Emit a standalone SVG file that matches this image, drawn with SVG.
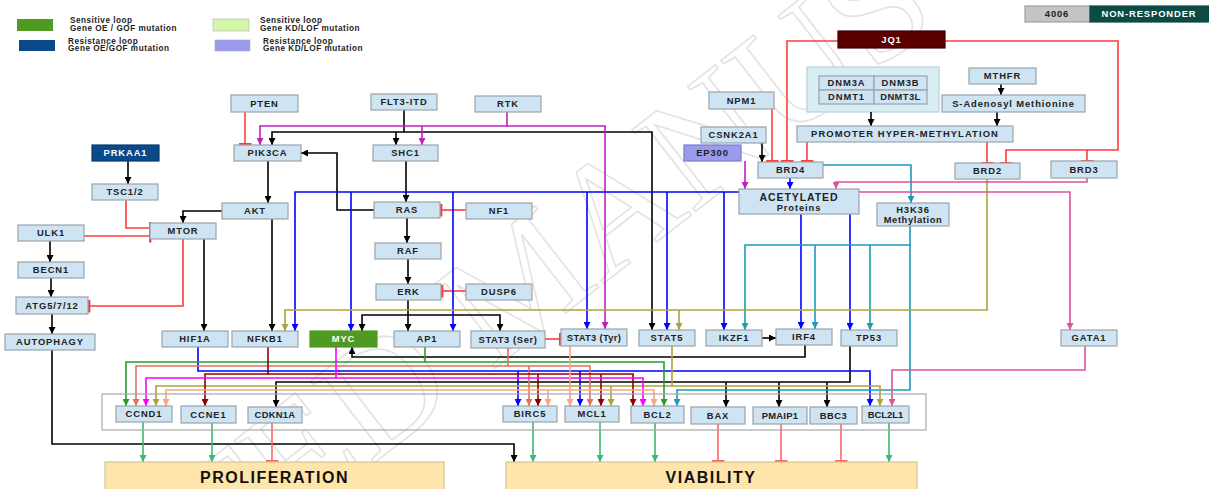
<svg xmlns="http://www.w3.org/2000/svg" width="1209" height="489" viewBox="0 0 1209 489">
<style>
.n rect{fill:#cfe4f3;stroke:#9aa3ab;stroke-width:1.2}
.n text,.lg text{font-family:"Liberation Sans",Arial,sans-serif;font-weight:bold;fill:#222}
.n text{font-size:9.4px;text-anchor:middle;letter-spacing:0.9px}
.lg text{font-size:8.2px;letter-spacing:0.5px}
.w text{fill:#fff}
.big text{font-size:16px;letter-spacing:1.5px;fill:#111}
.c path{fill:none;stroke-width:1.6}
.k{stroke:#000}.r{stroke:#ff3b3b}.rl{stroke:#ff6464}.mg{stroke:#c21fc2}.b{stroke:#0000ff}.t{stroke:#1b9bb9}.o{stroke:#aaa43e}.p{stroke:#e0519b}.g{stroke:#2c9a2c}.go{stroke:#3db873}.dr{stroke:#8b0000}.sa{stroke:#e07262}.lo{stroke:#f4a582}.fm{stroke:#ff00ff}
</style>
<defs>
<marker id="ak" viewBox="0 0 10 10" refX="10" refY="5" markerWidth="8" markerHeight="7" markerUnits="userSpaceOnUse" orient="auto"><path d="M0,0L10,5L0,10z" fill="#000"/></marker>
<marker id="amg" viewBox="0 0 10 10" refX="10" refY="5" markerWidth="8" markerHeight="7" markerUnits="userSpaceOnUse" orient="auto"><path d="M0,0L10,5L0,10z" fill="#c21fc2"/></marker>
<marker id="ab" viewBox="0 0 10 10" refX="10" refY="5" markerWidth="8" markerHeight="7" markerUnits="userSpaceOnUse" orient="auto"><path d="M0,0L10,5L0,10z" fill="#0000ff"/></marker>
<marker id="at" viewBox="0 0 10 10" refX="10" refY="5" markerWidth="8" markerHeight="7" markerUnits="userSpaceOnUse" orient="auto"><path d="M0,0L10,5L0,10z" fill="#1b9bb9"/></marker>
<marker id="ao" viewBox="0 0 10 10" refX="10" refY="5" markerWidth="8" markerHeight="7" markerUnits="userSpaceOnUse" orient="auto"><path d="M0,0L10,5L0,10z" fill="#aaa43e"/></marker>
<marker id="ap" viewBox="0 0 10 10" refX="10" refY="5" markerWidth="8" markerHeight="7" markerUnits="userSpaceOnUse" orient="auto"><path d="M0,0L10,5L0,10z" fill="#e0519b"/></marker>
<marker id="ag" viewBox="0 0 10 10" refX="10" refY="5" markerWidth="8" markerHeight="7" markerUnits="userSpaceOnUse" orient="auto"><path d="M0,0L10,5L0,10z" fill="#2c9a2c"/></marker>
<marker id="ago" viewBox="0 0 10 10" refX="10" refY="5" markerWidth="8" markerHeight="7" markerUnits="userSpaceOnUse" orient="auto"><path d="M0,0L10,5L0,10z" fill="#3db873"/></marker>
<marker id="adr" viewBox="0 0 10 10" refX="10" refY="5" markerWidth="8" markerHeight="7" markerUnits="userSpaceOnUse" orient="auto"><path d="M0,0L10,5L0,10z" fill="#8b0000"/></marker>
<marker id="asa" viewBox="0 0 10 10" refX="10" refY="5" markerWidth="8" markerHeight="7" markerUnits="userSpaceOnUse" orient="auto"><path d="M0,0L10,5L0,10z" fill="#e07262"/></marker>
<marker id="alo" viewBox="0 0 10 10" refX="10" refY="5" markerWidth="8" markerHeight="7" markerUnits="userSpaceOnUse" orient="auto"><path d="M0,0L10,5L0,10z" fill="#f4a582"/></marker>
<marker id="afm" viewBox="0 0 10 10" refX="10" refY="5" markerWidth="8" markerHeight="7" markerUnits="userSpaceOnUse" orient="auto"><path d="M0,0L10,5L0,10z" fill="#ff00ff"/></marker>
<marker id="ir" viewBox="0 0 3 14" refX="1.5" refY="7" markerWidth="3" markerHeight="13" markerUnits="userSpaceOnUse" orient="auto"><rect width="3" height="14" fill="#ff3b3b"/></marker>
<marker id="irl" viewBox="0 0 3 14" refX="1.5" refY="7" markerWidth="3" markerHeight="13" markerUnits="userSpaceOnUse" orient="auto"><rect width="3" height="14" fill="#ff6464"/></marker>
</defs>
<rect width="1209" height="489" fill="#fff"/>
<g id="watermark" opacity="0.5"><text transform="translate(-183,898) rotate(-38)" font-family="Liberation Serif,serif" font-size="158" fill="none" stroke="#c8c8c8" stroke-width="1.6">ACCEPTED MANUSCRIPT</text></g>

<g id="legend" class="lg">
<rect x="17" y="19" width="36" height="12" fill="#4f9a22"/>
<text x="70" y="23">Sensitive loop</text><text x="70" y="31">Gene OE / GOF mutation</text>
<rect x="19" y="40" width="36" height="11" fill="#0b4a8a"/>
<text x="68" y="44">Resistance loop</text><text x="68" y="51">Gene OE/GOF mutation</text>
<rect x="213" y="19" width="36" height="12" fill="#d4f8a8" stroke="#aab" stroke-width="0.6"/>
<text x="260" y="23">Sensitive loop</text><text x="260" y="31">Gene KD/LOF mutation</text>
<rect x="215" y="40" width="35" height="11" fill="#9b9bee" stroke="#aab" stroke-width="0.6"/>
<text x="263" y="44">Resistance loop</text><text x="263" y="51">Gene KD/LOF mutation</text>
</g>

<g id="status" class="n">
<rect x="1025" y="6" width="65" height="16" style="fill:#c4c4c4"/><text x="1057" y="17">4006</text>
<rect x="1090" y="6" width="119" height="16" style="fill:#0c4a44;stroke:#0c4a44"/><text x="1149" y="17" style="fill:#fff">NON-RESPONDER</text>
</g>

<g id="methyl-complex"><rect x="807" y="67" width="132" height="45" fill="#d8eef2" stroke="#b5d3dc" stroke-width="1.2"/></g>
<g id="dnmt-table" class="n">
<rect x="819" y="76" width="55" height="14"/><text x="846.5" y="86.3">DNM3A</text>
<rect x="874" y="76" width="53" height="14"/><text x="900.5" y="86.3">DNM3B</text>
<rect x="819" y="90" width="55" height="14"/><text x="846.5" y="100.3">DNMT1</text>
<rect x="874" y="90" width="53" height="14"/><text x="900.5" y="100.3" style="letter-spacing:0.4px">DNMT3L</text>
</g>

<g class="c">
<!-- black -->
<path class="k" marker-end="url(#ak)" d="M128,161V184"/>
<path class="k" marker-end="url(#ak)" d="M268,161V203"/>
<path class="k" marker-end="url(#ak)" d="M222,211H183V223"/>
<path class="k" marker-end="url(#ak)" d="M272,219V331"/>
<path class="k" marker-end="url(#ak)" d="M204,239V331"/>
<path class="k" marker-end="url(#ak)" d="M50,241V262"/>
<path class="k" marker-end="url(#ak)" d="M51,278V297"/>
<path class="k" marker-end="url(#ak)" d="M52,314V334"/>
<path class="k" marker-end="url(#ak)" d="M52,350V444H514V462"/>
<path class="k" marker-end="url(#ak)" d="M404,110V132H272V145"/>
<path class="k" marker-end="url(#ak)" d="M404,132H652V330"/>
<path class="k" marker-end="url(#ak)" d="M396,132V145"/>
<path class="k" marker-end="url(#ak)" d="M406,161V202"/>
<path class="k" marker-end="url(#ak)" d="M374,210H337V153H301"/>
<path class="k" marker-end="url(#ak)" d="M407,218V243"/>
<path class="k" marker-end="url(#ak)" d="M408,259V284"/>
<path class="k" marker-end="url(#ak)" d="M408,299V331"/>
<path class="k" marker-end="url(#ak)" d="M408,315H362V331"/>
<path class="k" marker-end="url(#ak)" d="M408,315H500V331"/>
<path class="k" marker-end="url(#ak)" d="M762,143V162"/>
<path class="k" marker-end="url(#ak)" d="M871,112V126"/>
<path class="k" marker-end="url(#ak)" d="M1001,84V95"/>
<path class="k" marker-end="url(#ak)" d="M997,112V126"/>
<path class="k" marker-end="url(#ak)" d="M762,338H776"/>
<path class="k" marker-end="url(#ak)" d="M805,345V357H352V347"/>
<path class="k" marker-end="url(#ak)" d="M850,346V382H276V407"/>
<path class="k" marker-end="url(#ak)" d="M726,382V407"/>
<path class="k" marker-end="url(#ak)" d="M779,382V407"/>
<path class="k" marker-end="url(#ak)" d="M827,382V407"/>
<!-- red inhibition -->
<path class="r" marker-end="url(#ir)" d="M245,112V144"/>
<path class="r" marker-end="url(#ir)" d="M126,200V228H150"/>
<path class="r" marker-end="url(#ir)" d="M84,236H150"/>
<path class="r" marker-end="url(#ir)" d="M183,239V306H89"/>
<path class="r" marker-end="url(#ir)" d="M466,210H441"/>
<path class="r" marker-end="url(#ir)" d="M466,291H442"/>
<path class="r" marker-end="url(#ir)" d="M772,109V161"/>
<path class="r" marker-end="url(#ir)" d="M838,41H787V161"/>
<path class="r" marker-end="url(#ir)" d="M807,142V161"/>
<path class="r" marker-end="url(#ir)" d="M945,41H1118V150H1006V163"/>
<path class="r" marker-end="url(#ir)" d="M1087,150V161"/>
<path class="r" marker-end="url(#ir)" d="M987,142V163"/>
<path class="r" marker-end="url(#ir)" d="M545,339H560"/>
<path class="rl" marker-end="url(#irl)" d="M272,423V461"/>
<path class="rl" marker-end="url(#irl)" d="M718,424V461"/>
<path class="rl" marker-end="url(#irl)" d="M781,424V461"/>
<path class="rl" marker-end="url(#irl)" d="M841,424V461"/>
<!-- magenta -->
<path class="mg" marker-end="url(#amg)" d="M507,112V126H260V145"/>
<path class="mg" marker-end="url(#amg)" d="M422,126V145"/>
<path class="mg" marker-end="url(#amg)" d="M507,126H605V329"/>
<path class="mg" marker-end="url(#amg)" d="M745,161V189"/>
<!-- blue -->
<path class="b" marker-end="url(#ab)" d="M739,192H295V331"/>
<path class="b" marker-end="url(#ab)" d="M351,192V331"/>
<path class="b" marker-end="url(#ab)" d="M453,192V331"/>
<path class="b" marker-end="url(#ab)" d="M587,192V329"/>
<path class="b" marker-end="url(#ab)" d="M667,192V330"/>
<path class="b" marker-end="url(#ab)" d="M724,192V330"/>
<path class="b" marker-end="url(#ab)" d="M790,178V189"/>
<path class="b" marker-end="url(#ab)" d="M801,214V329"/>
<path class="b" marker-end="url(#ab)" d="M850,214V330"/>
<path class="b" marker-end="url(#ab)" d="M198,347V371H870V406"/>
<path class="b" marker-end="url(#ab)" d="M518,371V406"/>
<path class="b" marker-end="url(#ab)" d="M580,371V406"/>
<!-- teal -->
<path class="t" marker-end="url(#at)" d="M823,165H911V203"/>
<path class="t" marker-end="url(#at)" d="M910,226V390H677V406"/>
<path class="t" marker-end="url(#at)" d="M910,245H745V330"/>
<path class="t" marker-end="url(#at)" d="M815,245V329"/>
<path class="t" marker-end="url(#at)" d="M870,245V330"/>
<!-- olive -->
<path class="o" marker-end="url(#ao)" d="M987,179V310H285V331"/>
<path class="o" marker-end="url(#ao)" d="M679,310V330"/>
<path class="o" marker-end="url(#ao)" d="M672,346V386H156V406"/>
<path class="o" marker-end="url(#ao)" d="M672,386H880V406"/>
<path class="o" marker-end="url(#ao)" d="M611,386V406"/>
<!-- pink -->
<path class="p" marker-end="url(#ap)" d="M1087,178V182H836V189"/>
<path class="p" marker-end="url(#ap)" d="M859,192H1070V330"/>
<path class="p" marker-end="url(#ap)" d="M1085,346V370H892V406"/>
<!-- green from AP1 -->
<path class="g" marker-end="url(#ag)" d="M425,347V362H126V406"/>
<path class="g" marker-end="url(#ag)" d="M425,362H664V406"/>
<!-- salmon from STAT3 Ser -->
<path class="sa" marker-end="url(#asa)" d="M508,348V366H136V406"/>
<path class="sa" marker-end="url(#asa)" d="M508,366H590V406"/>
<path class="sa" marker-end="url(#asa)" d="M529,366V406"/>
<!-- dark red from NFKB1 -->
<path class="dr" marker-end="url(#adr)" d="M268,347V374H205V406"/>
<path class="dr" marker-end="url(#adr)" d="M268,374H633V406"/>
<path class="dr" marker-end="url(#adr)" d="M538,374V406"/>
<path class="dr" marker-end="url(#adr)" d="M601,374V406"/>
<!-- bright magenta from MYC -->
<path class="fm" marker-end="url(#afm)" d="M336,347V378H146V406"/>
<path class="fm" marker-end="url(#afm)" d="M336,378H643V406"/>
<!-- light orange from STAT3 Tyr -->
<path class="lo" marker-end="url(#alo)" d="M570,346V406"/>
<path class="lo" marker-end="url(#alo)" d="M570,390H166V406"/>
<path class="lo" marker-end="url(#alo)" d="M570,390H654V406"/>
<path class="lo" marker-end="url(#alo)" d="M548,390V406"/>
<!-- outputs -->
<path class="go" marker-end="url(#ago)" d="M143,422V462"/>
<path class="go" marker-end="url(#ago)" d="M212,423V462"/>
<path class="go" marker-end="url(#ago)" d="M533,422V462"/>
<path class="go" marker-end="url(#ago)" d="M600,422V462"/>
<path class="go" marker-end="url(#ago)" d="M655,423V462"/>
<path class="go" marker-end="url(#ago)" d="M889,423V462"/>
</g>

<g id="target-box"><rect x="102" y="394" width="824" height="36" fill="none" stroke="#a8a8a8" stroke-width="1.2"/></g>

<g id="PTEN" class="n"><rect x="231" y="95" width="67" height="17"/><text x="264.5" y="106.8">PTEN</text></g>
<g id="PIK3CA" class="n"><rect x="234" y="145" width="67" height="16"/><text x="267.5" y="156.3">PIK3CA</text></g>
<g id="FLT3-ITD" class="n"><rect x="371" y="94" width="66" height="16"/><text x="404" y="105.3">FLT3-ITD</text></g>
<g id="RTK" class="n"><rect x="475" y="96" width="66" height="16"/><text x="508" y="107.3">RTK</text></g>
<g id="SHC1" class="n"><rect x="373" y="145" width="65" height="16"/><text x="405.5" y="156.3">SHC1</text></g>
<g id="PRKAA1" class="n w"><rect x="92" y="145" width="67" height="16" style="fill:#0b4a8a;stroke:#0b3a6a"/><text x="125.5" y="156.3">PRKAA1</text></g>
<g id="TSC12" class="n"><rect x="92" y="184" width="66" height="16"/><text x="125" y="195.3">TSC1/2</text></g>
<g id="AKT" class="n"><rect x="222" y="203" width="66" height="16"/><text x="255" y="214.3">AKT</text></g>
<g id="MTOR" class="n"><rect x="150" y="223" width="66" height="16"/><text x="183" y="234.3">MTOR</text></g>
<g id="ULK1" class="n"><rect x="18" y="225" width="66" height="16"/><text x="51" y="236.3">ULK1</text></g>
<g id="BECN1" class="n"><rect x="18" y="262" width="66" height="16"/><text x="51" y="273.3">BECN1</text></g>
<g id="ATG" class="n"><rect x="16" y="297" width="72" height="17"/><text x="52" y="308.8">ATG5/7/12</text></g>
<g id="AUTOPHAGY" class="n"><rect x="5" y="334" width="90" height="16"/><text x="50" y="345.3">AUTOPHAGY</text></g>
<g id="HIF1A" class="n"><rect x="162" y="331" width="66" height="16"/><text x="195" y="342.3">HIF1A</text></g>
<g id="NFKB1" class="n"><rect x="232" y="331" width="66" height="16"/><text x="265" y="342.3">NFKB1</text></g>
<g id="RAS" class="n"><rect x="374" y="202" width="66" height="16"/><text x="407" y="213.3">RAS</text></g>
<g id="NF1" class="n"><rect x="466" y="203" width="66" height="16"/><text x="499" y="214.3">NF1</text></g>
<g id="RAF" class="n"><rect x="375" y="243" width="66" height="16"/><text x="408" y="254.3">RAF</text></g>
<g id="ERK" class="n"><rect x="376" y="284" width="65" height="16"/><text x="408.5" y="295.3">ERK</text></g>
<g id="DUSP6" class="n"><rect x="466" y="284" width="66" height="16"/><text x="499" y="295.3">DUSP6</text></g>
<g id="MYC" class="n w"><rect x="310" y="331" width="67" height="16" style="fill:#4f9a22;stroke:#4f9a22"/><text x="343.5" y="342.3">MYC</text></g>
<g id="AP1" class="n"><rect x="394" y="331" width="66" height="16"/><text x="427" y="342.3">AP1</text></g>
<g id="STAT3Ser" class="n"><rect x="471" y="331" width="74" height="17"/><text x="508" y="342.8" style="letter-spacing:0.6px">STAT3 (Ser)</text></g>
<g id="STAT3Tyr" class="n"><rect x="561" y="329" width="66" height="17"/><text x="594" y="340.8" style="letter-spacing:0.3px">STAT3 (Tyr)</text></g>
<g id="STAT5" class="n"><rect x="639" y="330" width="56" height="16"/><text x="667" y="341.3">STAT5</text></g>
<g id="IKZF1" class="n"><rect x="706" y="330" width="56" height="16"/><text x="734" y="341.3">IKZF1</text></g>
<g id="IRF4" class="n"><rect x="776" y="329" width="56" height="16"/><text x="804" y="340.3">IRF4</text></g>
<g id="TP53" class="n"><rect x="841" y="330" width="56" height="16"/><text x="869" y="341.3">TP53</text></g>
<g id="GATA1" class="n"><rect x="1061" y="330" width="56" height="16"/><text x="1089" y="341.3">GATA1</text></g>
<g id="NPM1" class="n"><rect x="709" y="92" width="65" height="17"/><text x="741.5" y="103.8">NPM1</text></g>
<g id="CSNK2A1" class="n"><rect x="701" y="127" width="65" height="16"/><text x="733.5" y="138.3">CSNK2A1</text></g>
<g id="EP300" class="n"><rect x="684" y="145" width="57" height="16" style="fill:#9b9bee;stroke:#7a7acc"/><text x="712.5" y="156.3">EP300</text></g>
<g id="BRD4" class="n"><rect x="758" y="162" width="65" height="16"/><text x="790.5" y="173.3">BRD4</text></g>
<g id="ACETYLATED" class="n"><rect x="739" y="189" width="120" height="25"/><text x="799" y="200.5" style="font-size:10.5px">ACETYLATED</text><text x="799" y="210.5">Proteins</text></g>
<g id="H3K36" class="n"><rect x="877" y="203" width="72" height="23"/><text x="913" y="213">H3K36</text><text x="913" y="222.5" style="letter-spacing:0.6px">Methylation</text></g>
<g id="BRD2" class="n"><rect x="955" y="163" width="65" height="16"/><text x="987.5" y="174.3">BRD2</text></g>
<g id="BRD3" class="n"><rect x="1051" y="161" width="66" height="17"/><text x="1084" y="172.8">BRD3</text></g>
<g id="MTHFR" class="n"><rect x="969" y="68" width="67" height="16"/><text x="1002.5" y="79.3">MTHFR</text></g>
<g id="SAM" class="n"><rect x="942" y="95" width="143" height="17"/><text x="1013.5" y="106.8">S-Adenosyl Methionine</text></g>
<g id="PROMOTER" class="n"><rect x="797" y="126" width="216" height="16"/><text x="905" y="137.3" style="letter-spacing:1.1px">PROMOTER HYPER-METHYLATION</text></g>
<g id="JQ1" class="n w"><rect x="838" y="31" width="107" height="17" style="fill:#5a0000;stroke:#3a0000"/><text x="891.5" y="42.8">JQ1</text></g>

<g id="CCND1" class="n"><rect x="116" y="406" width="56" height="16"/><text x="144" y="417.3">CCND1</text></g>
<g id="CCNE1" class="n"><rect x="181" y="406" width="55" height="17"/><text x="208.5" y="417.8">CCNE1</text></g>
<g id="CDKN1A" class="n"><rect x="248" y="407" width="54" height="16"/><text x="275" y="418.3" style="letter-spacing:0.3px">CDKN1A</text></g>
<g id="BIRC5" class="n"><rect x="503" y="406" width="54" height="16"/><text x="530" y="417.3">BIRC5</text></g>
<g id="MCL1" class="n"><rect x="565" y="406" width="54" height="16"/><text x="592" y="417.3">MCL1</text></g>
<g id="BCL2" class="n"><rect x="631" y="406" width="53" height="17"/><text x="657.5" y="417.8">BCL2</text></g>
<g id="BAX" class="n"><rect x="691" y="407" width="54" height="17"/><text x="718" y="418.8">BAX</text></g>
<g id="PMAIP1" class="n"><rect x="753" y="407" width="54" height="17"/><text x="780" y="418.8" style="letter-spacing:0.3px">PMAIP1</text></g>
<g id="BBC3" class="n"><rect x="810" y="407" width="47" height="17"/><text x="833.5" y="418.8" style="letter-spacing:0.5px">BBC3</text></g>
<g id="BCL2L1" class="n"><rect x="862" y="406" width="47" height="17"/><text x="885.5" y="417.8" style="letter-spacing:0px">BCL2L1</text></g>

<g id="PROLIFERATION" class="n big"><rect x="105" y="462" width="339" height="32" style="fill:#fde5ab;stroke:#d5c395"/><text x="274.5" y="482.5">PROLIFERATION</text></g>
<g id="VIABILITY" class="n big"><rect x="506" y="462" width="411" height="32" style="fill:#fde5ab;stroke:#d5c395"/><text x="711" y="482.5">VIABILITY</text></g>
</svg>
